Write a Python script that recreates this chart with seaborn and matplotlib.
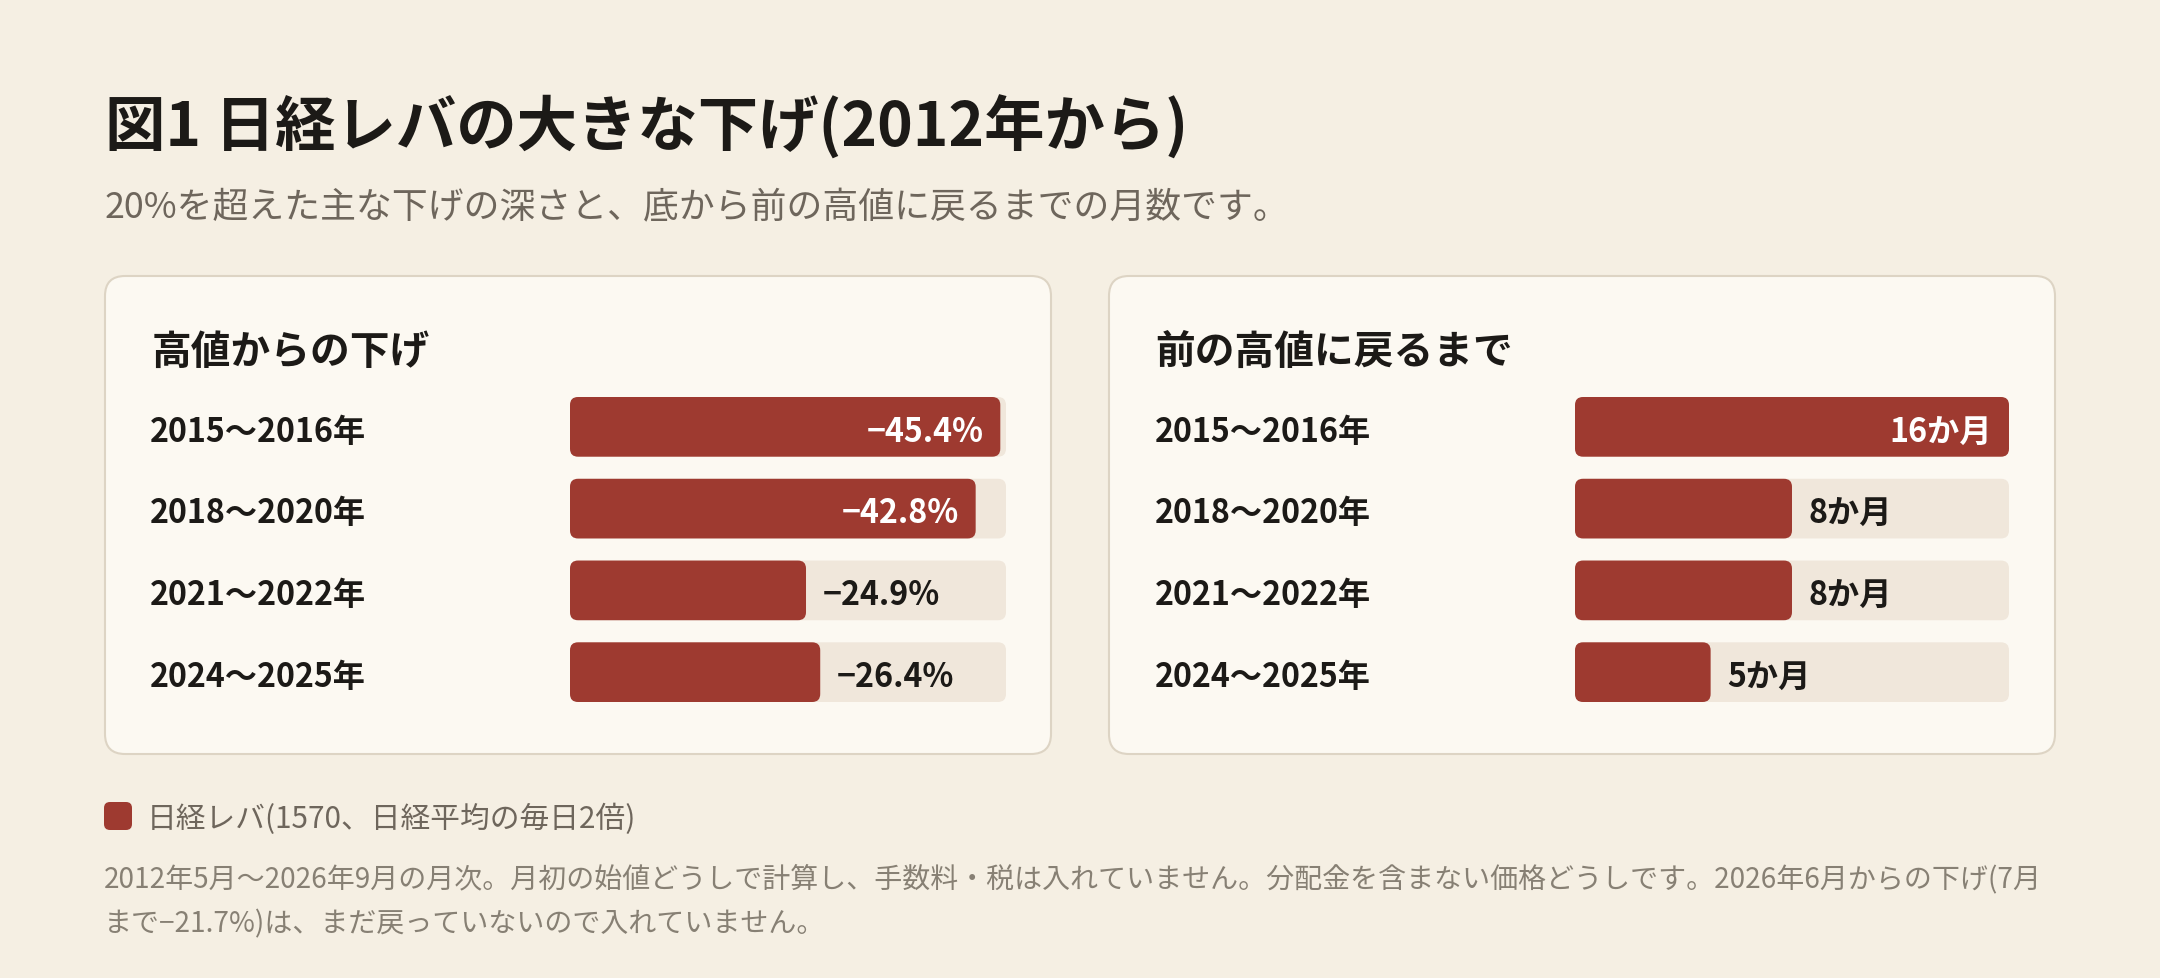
import numpy as np
import pandas as pd
import seaborn as sns
import matplotlib
matplotlib.use("Agg")
import matplotlib.pyplot as plt
from matplotlib.patches import FancyBboxPatch
from matplotlib.transforms import IdentityTransform, blended_transform_factory

# Data
periods = ["2015～2016年", "2018～2020年", "2021～2022年", "2024～2025年"]
drops = [-45.4, -42.8, -24.9, -26.4]      # % from the previous high
months = [16, 8, 8, 5]                    # months until the previous high came back

title = "図1 日経レバの大きな下げ(2012年から)"
subtitle = "20%を超えた主な下げの深さと、底から前の高値に戻るまでの月数です。"
panel_titles = ["高値からの下げ", "前の高値に戻るまで"]
legend_label = "日経レバ(1570、日経平均の毎日2倍)"
note_lines = [
    "2012年5月～2026年9月の月次。月初の始値どうしで計算し、手数料・税は入れていません。"
    "分配金を含まない価格どうしです。2026年6月からの下げ(7月",
    "まで−21.7%)は、まだ戻っていないので入れていません。",
]

# Colours
BG = "#f5efe3"
PANEL = "#fcf9f2"
BORDER = "#ddd4c4"
TRACK = "#f0e7db"
RED = "#9e3a30"
DARK = "#1c1a17"
MUTED = "#6e665c"
NOTE = "#878074"

W, H, DPI = 2160, 979, 100
BAR_H = 0.73

sns.set_style("white")
plt.rcParams["font.family"] = ["Noto Sans CJK JP", "DejaVu Sans"]

fig = plt.figure(figsize=(W / DPI, H / DPI), dpi=DPI, facecolor=BG)


def fx(x):
    return x / W


def fy(y):
    return 1 - y / H


def box(x0, y0, x1, y1, r, fc, ec="none", lw=0, z=-1):
    # pixel box, y measured from the top of the picture
    p = FancyBboxPatch((x0, H - y1), x1 - x0, y1 - y0,
                       boxstyle="round,pad=0,rounding_size=%g" % r,
                       transform=IdentityTransform(), fc=fc, ec=ec, lw=lw,
                       zorder=z)
    fig.add_artist(p)


# Header
fig.text(fx(105), fy(128), title, fontsize=43.5, fontweight="bold",
         color=DARK, ha="left", va="center")
fig.text(fx(105), fy(208), subtitle, fontsize=25.8, color=MUTED,
         ha="left", va="center")

# Panels
panels = [(105, 1051), (1109, 2055)]
for x0, x1 in panels:
    box(x0, 277, x1, 755, 20, PANEL, BORDER, 1.5)


def draw_bars(ax, values, xmax, labels, label_x):
    mag = [abs(v) for v in values]
    df = pd.DataFrame({"period": periods, "value": mag})
    ax.barh(np.arange(len(periods)), xmax, height=BAR_H, color=TRACK, zorder=1)
    sns.barplot(data=df, x="value", y="period", color=RED, width=BAR_H,
                saturation=1, errorbar=None, ax=ax, zorder=2)
    ax.set_xlim(0, xmax)
    ax.set_ylim(len(periods) - 1 + BAR_H / 2, -BAR_H / 2)
    ax.axis("off")

    # rounded corners for every bar
    for p in list(ax.patches):
        bb = p.get_window_extent()
        rp = FancyBboxPatch((bb.x0, bb.y0), bb.width, bb.height,
                            boxstyle="round,pad=0,rounding_size=8",
                            transform=IdentityTransform(),
                            fc=p.get_facecolor(), ec="none",
                            zorder=p.get_zorder(), clip_on=False)
        p.remove()
        ax.add_artist(rp)

    tr = blended_transform_factory(fig.transFigure, ax.transData)
    for i, (per, v, lab) in enumerate(zip(periods, mag, labels)):
        ax.annotate(per, xy=(fx(label_x), i), xycoords=tr,
                    xytext=(0, -3), textcoords="offset points",
                    ha="left", va="center",
                    fontsize=23.2, fontweight="bold", color=DARK)
        inside = v / xmax > 0.8
        ax.annotate(lab, xy=(v, i), xytext=(-12 if inside else 12, -3),
                    textcoords="offset points",
                    ha="right" if inside else "left", va="center",
                    fontsize=23.2, fontweight="bold",
                    color="white" if inside else DARK, zorder=5)


ax1 = fig.add_axes([fx(570), fy(703), fx(1006) - fx(570), (703 - 398) / H])
ax2 = fig.add_axes([fx(1575), fy(703), fx(2009) - fx(1575), (703 - 398) / H])
for a in (ax1, ax2):
    a.patch.set_visible(False)

draw_bars(ax1, drops, 46, ["\u2212%.1f%%" % abs(v) for v in drops], 150)
draw_bars(ax2, months, 16, ["%dか月" % m for m in months], 1155)

fig.text(fx(152), fy(352), panel_titles[0], fontsize=28.6, fontweight="bold",
         color=DARK, ha="left", va="center")
fig.text(fx(1155), fy(352), panel_titles[1], fontsize=28.6, fontweight="bold",
         color=DARK, ha="left", va="center")

# Legend
box(104, 803, 132, 831, 6, RED, z=2)
fig.text(fx(147), fy(819), legend_label, fontsize=21.4, color=MUTED,
         ha="left", va="center")

# Footnote
fig.text(fx(104), fy(879), note_lines[0], fontsize=20.15, color=NOTE,
         ha="left", va="center")
fig.text(fx(104), fy(924), note_lines[1], fontsize=20.15, color=NOTE,
         ha="left", va="center")

fig.savefig("out.png", dpi=DPI, facecolor=BG)
